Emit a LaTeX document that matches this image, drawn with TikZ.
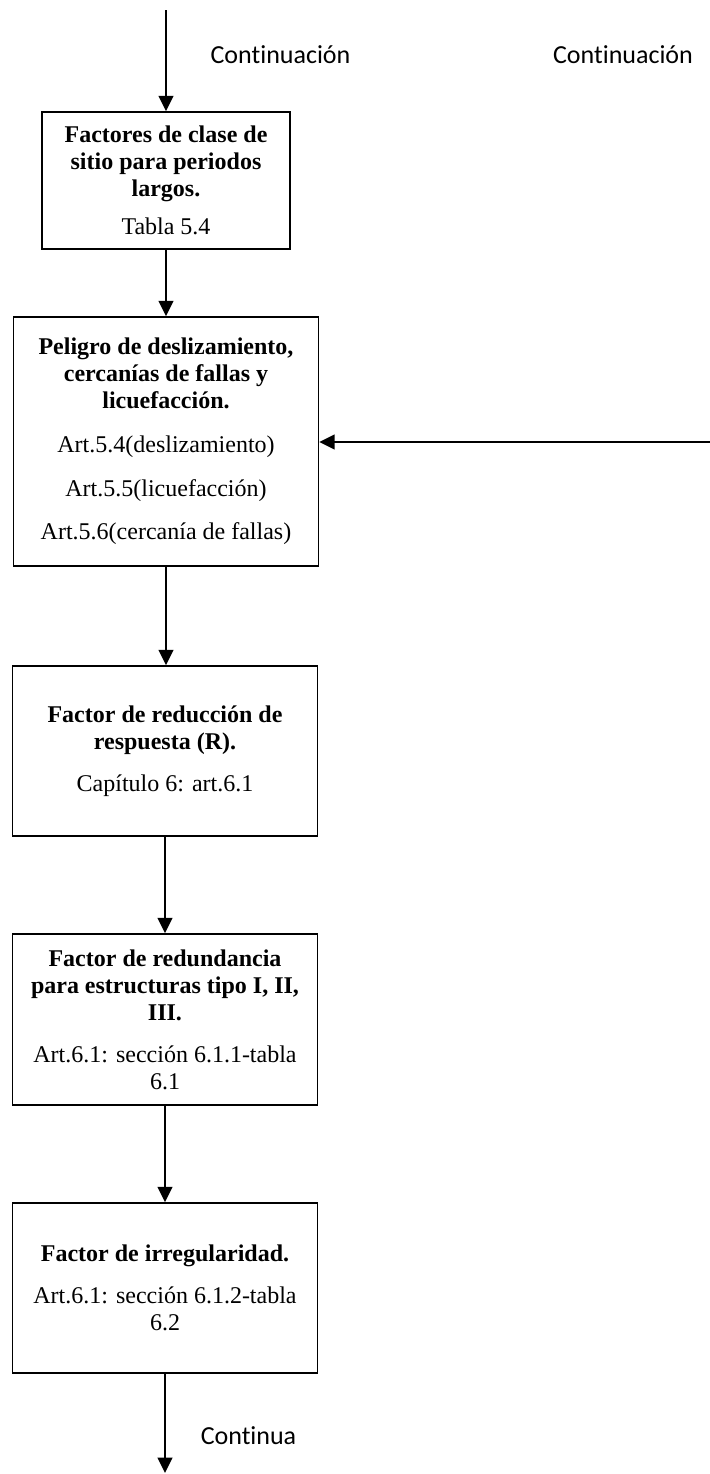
\documentclass[tikz,border=0pt]{standalone}
\usepackage{fontspec}
\setmainfont{Liberation Serif}[BoldFont={Liberation Serif Bold}]
\newfontfamily\labelfont{Carlito}[Ligatures={NoCommon}]
\usetikzlibrary{arrows.meta}

\tikzset{
  box/.style={draw=black, line width=1.1pt, fill=white, align=center,
    inner sep=0pt, minimum width=228.75pt,
    font=\fontsize{18}{20.25}\selectfont},
  arr/.style={line width=1.5pt, -{Triangle[length=11.5pt,width=11pt]}},
  note/.style={font=\labelfont\fontsize{19.5}{22}\selectfont, inner sep=0pt}
}

\begin{document}
\begin{tikzpicture}[x=0.75pt, y=-0.75pt]
  \useasboundingbox (0,0) rectangle (710,1474);

  % flow boxes
  \node[box, minimum width=186pt, minimum height=102.75pt] (b1) at (166,180.5)
    {\textbf{Factores de clase de}\\ \textbf{sitio para periodos}\\ \textbf{largos.}\\[8pt]
     Tabla 5.4};
  \node[box, minimum height=186.75pt] (b2) at (166,441.5)
    {\textbf{Peligro de deslizamiento,}\\ \textbf{cercanías de fallas y}\\ \textbf{licuefacción.}\\[12.5pt]
     Art.5.4(deslizamiento)\\[12.4pt]
     Art.5.5(licuefacción)\\[12.4pt]
     Art.5.6(cercanía de fallas)};
  \node[box, minimum height=127.5pt] (b3) at (165,751)
    {\textbf{Factor de reducción de}\\ \textbf{respuesta (R).}\\[11pt]
     Capítulo 6: art.6.1};
  \node[box, minimum height=128.25pt] (b4) at (165,1019.5)
    {\textbf{Factor de redundancia}\\ \textbf{para estructuras tipo I, II,}\\ \textbf{III.}\\[11pt]
     Art.6.1: sección 6.1.1-tabla\\ 6.1};
  \node[box, minimum height=127.5pt] (b5) at (165,1288)
    {\textbf{Factor de irregularidad.}\\[11pt]
     Art.6.1: sección 6.1.2-tabla\\ 6.2};

  % side labels
  \node[note] (c1) at (280.5,55) {Continuación};
  \node[note] (c2) at (623,55) {Continuación};
  \node[note] (c3) at (248.5,1436) {Continua};

  % free ends of the connectors
  \coordinate (top) at (166,10);
  \coordinate (rin) at (710,442);
  \coordinate (bot) at (165,1473);

  % connectors
  \draw[arr] (top) -- (top |- b1.north);
  \draw[arr] (b1.south) -- (b1.south |- b2.north);
  \draw[arr] (b2.south) -- (b2.south |- b3.north);
  \draw[arr] (b3.south) -- (b3.south |- b4.north);
  \draw[arr] (b4.south) -- (b4.south |- b5.north);
  \draw[arr] (b5.south) -- (b5.south |- bot);
  \draw[arr] (rin) -- (rin -| b2.east);
\end{tikzpicture}
\end{document}
